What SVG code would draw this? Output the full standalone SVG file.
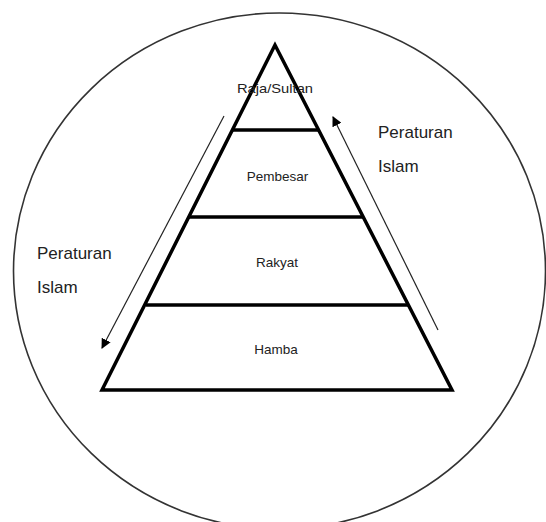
<svg xmlns="http://www.w3.org/2000/svg" width="546" height="522" viewBox="0 0 546 522">
<style>
.lbl{font-family:"Liberation Sans",Arial,sans-serif;font-size:13.5px;fill:#222;text-anchor:middle}
.side{font-family:"Liberation Sans",Arial,sans-serif;font-size:17px;fill:#222}
.tier{fill:none;stroke:#000;stroke-width:3.5}
.arr{stroke:#222;stroke-width:1.2;fill:none;marker-end:url(#ah)}
</style>
<defs>
<marker id="ah" viewBox="0 0 10 10" refX="9" refY="5" markerWidth="10" markerHeight="10" markerUnits="userSpaceOnUse" orient="auto">
<path d="M0,0 L10,5 L0,10 z" fill="#000"/>
</marker>
</defs>
<rect width="546" height="522" fill="#fff"/>
<ellipse id="circle" cx="279.5" cy="271" rx="266" ry="258" fill="none" stroke="#333" stroke-width="1.6"/>
<g id="pyramid">
<polygon class="tier" points="275,45 102,390 452,390" stroke-linejoin="miter"/>
</g>
<g id="raja"><line class="tier" x1="232" y1="130" x2="319" y2="130"/><text class="lbl" x="275" y="93" textLength="76" lengthAdjust="spacingAndGlyphs">Raja/Sultan</text></g>
<g id="pembesar"><line class="tier" x1="189" y1="217" x2="363" y2="217"/><text class="lbl" x="277.5" y="181">Pembesar</text></g>
<g id="rakyat"><line class="tier" x1="146" y1="305" x2="408" y2="305"/><text class="lbl" x="277" y="267">Rakyat</text></g>
<g id="hamba"><text class="lbl" x="276" y="354">Hamba</text></g>
<g id="connectors">
<line class="arr" x1="224" y1="116" x2="102" y2="348"/>
<line class="arr" x1="438" y1="330" x2="333" y2="117"/>
</g>
<g id="labels">
<text class="side" x="378" y="138">Peraturan</text>
<text class="side" x="378" y="172">Islam</text>
<text class="side" x="37" y="259">Peraturan</text>
<text class="side" x="37" y="293">Islam</text>
</g>
</svg>
